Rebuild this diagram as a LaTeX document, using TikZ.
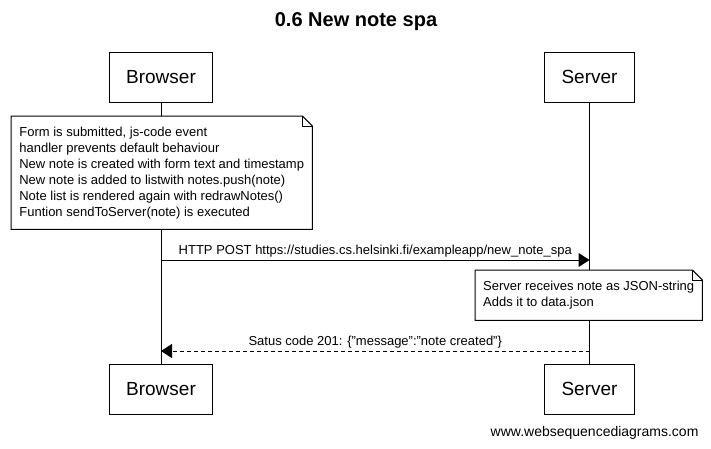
\documentclass[tikz,border=0pt]{standalone}
\usepackage{fontspec}
\setmainfont{Liberation Sans}
\usetikzlibrary{arrows.meta,backgrounds}

\tikzset{
    actor/.style={draw, line width=1pt, fill=white, inner xsep=17pt, minimum height=50pt,
        font=\fontsize{19}{22}\selectfont},
    note/.style={align=left, inner xsep=6pt, font=\fontsize{13}{16}\selectfont},
    notebox/.style={draw, line width=1pt, fill=white},
    lifeline/.style={line width=1pt},
    msg/.style={line width=1pt, -{Triangle[length=11pt,width=14pt]}},
    reply/.style={msg, dash pattern=on 4pt off 3pt},
    msglabel/.style={above, inner sep=2pt, font=\fontsize{13}{16}\selectfont},
}

\begin{document}
\begin{tikzpicture}[x={(1pt,0pt)}, y={(0pt,-1pt)}]
    \useasboundingbox (0,0) rectangle (711,448);

    \node[font=\fontsize{20}{24}\selectfont\bfseries] (title) at (356,22) {0.6 New note spa};

    \node[actor] (browser) at (161,77) {Browser};
    \node[actor] (server) at (589.5,77) {Server};
    \node[actor] (browserb) at (161,389) {Browser};
    \node[actor] (serverb) at (589.5,389) {Server};

    \node[note, minimum width=301pt, minimum height=113pt, anchor=north west] (note1) at (11,116)
        {Form is submitted, js-code event\\
         handler prevents default behaviour\\
         New note is created with form text and timestamp\\
         New note is added to listwith notes.push(note)\\
         Note list is rendered again with redrawNotes()\\
         Funtion sendToServer(note) is executed};
    \node[note, minimum width=227pt, minimum height=50pt, anchor=north west] (note2) at (475,270)
        {Server receives note as JSON-string\\
         Adds it to data.json};

    \begin{scope}[on background layer]
        \fill[white] (0,0) rectangle (711,448);
        \draw[lifeline] (browser) -- (browserb);
        \draw[lifeline] (server) -- (serverb);
        \foreach \n in {note1, note2} {
            \draw[notebox] (\n.north west) -- ([xshift=-10pt]\n.north east)
                -- ([yshift=-10pt]\n.north east) -- (\n.south east) -- (\n.south west) -- cycle;
            \draw[line width=1pt] ([xshift=-10pt]\n.north east) |- ([yshift=-10pt]\n.north east);
        }
    \end{scope}

    \coordinate (post) at (0,260);
    \coordinate (resp) at (0,351);
    \draw[msg] (browser |- post) -- node[msglabel]
        {HTTP POST https://studies.cs.helsinki.fi/exampleapp/new\_note\_spa} (server |- post);
    \draw[reply] (server |- resp) -- node[msglabel]
        {Satus code 201: \{"message":"note created"\}} (browser |- resp);

    \node[anchor=east, font=\fontsize{14}{16}\selectfont] (footer) at (702,433) {www.websequencediagrams.com};
\end{tikzpicture}
\end{document}
